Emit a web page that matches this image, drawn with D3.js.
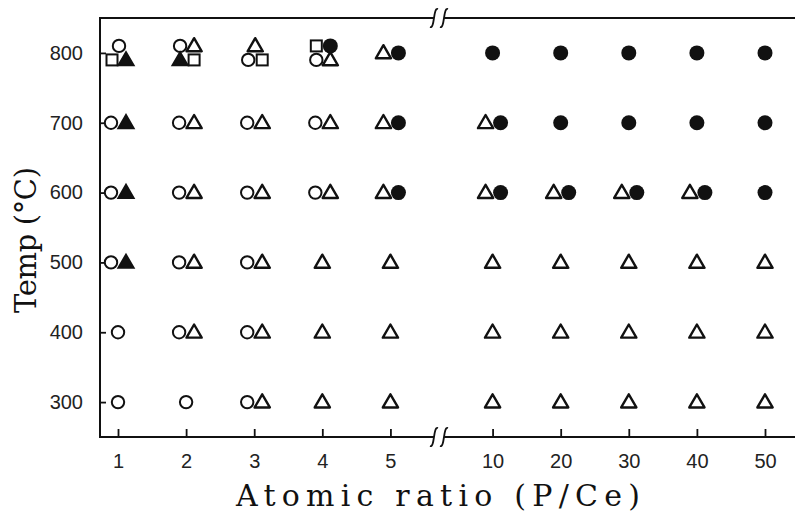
<!DOCTYPE html>
<html><head><meta charset="utf-8">
<script src="https://cdn.jsdelivr.net/npm/d3@7"></script>
<style>html,body{margin:0;padding:0;background:#fff;}svg{display:block;}</style>
</head><body>
<svg id="chart" width="795" height="522"></svg>
<script>
// ---- data ----
const ratios = ["1","2","3","4","5","10","20","30","40","50"];
const temps = [300,400,500,600,700,800];
const xTitle = "Atomic ratio (P/Ce)";
const yTitle = "Temp (\u00B0C)";
// each point: [ratio, temp, slot]  (slot = position within the crowded cell)
const openCircle = [
  ["1",800,"T"],["2",800,"TL"],["3",800,"BL"],["4",800,"BL"],
  ["1",700,"L"],["2",700,"L"],["3",700,"L"],["4",700,"L"],
  ["1",600,"L"],["2",600,"L"],["3",600,"L"],["4",600,"L"],
  ["1",500,"L"],["2",500,"L"],["3",500,"L"],
  ["1",400,"C"],["2",400,"L"],["3",400,"L"],
  ["1",300,"C"],["2",300,"C"],["3",300,"L"]
];
const openTriangle = [
  ["2",800,"TR"],["3",800,"T"],["4",800,"BR"],["5",800,"L"],
  ["2",700,"R"],["3",700,"R"],["4",700,"R"],["5",700,"L"],["10",700,"L"],
  ["2",600,"R"],["3",600,"R"],["4",600,"R"],["5",600,"L"],["10",600,"L"],["20",600,"L"],["30",600,"L"],["40",600,"L"],
  ["2",500,"R"],["3",500,"R"],["4",500,"C"],["5",500,"C"],["10",500,"C"],["20",500,"C"],["30",500,"C"],["40",500,"C"],["50",500,"C"],
  ["2",400,"R"],["3",400,"R"],["4",400,"C"],["5",400,"C"],["10",400,"C"],["20",400,"C"],["30",400,"C"],["40",400,"C"],["50",400,"C"],
  ["3",300,"R"],["4",300,"C"],["5",300,"C"],["10",300,"C"],["20",300,"C"],["30",300,"C"],["40",300,"C"],["50",300,"C"]
];
const filledTriangle = [
  ["1",800,"BR"],["2",800,"BL"],
  ["1",700,"R"],["1",600,"R"],["1",500,"R"]
];
const openSquare = [
  ["1",800,"BL"],["2",800,"BR"],["3",800,"BR"],["4",800,"TL"]
];
const filledCircle = [
  ["4",800,"TR"],["5",800,"R"],["10",800,"C"],["20",800,"C"],["30",800,"C"],["40",800,"C"],["50",800,"C"],
  ["5",700,"R"],["10",700,"R"],["20",700,"C"],["30",700,"C"],["40",700,"C"],["50",700,"C"],
  ["5",600,"R"],["10",600,"R"],["20",600,"R"],["30",600,"R"],["40",600,"R"],["50",600,"C"]
];

// ---- layout ----
const svg = d3.select("#chart");
const plotL = 100, plotR = 795, plotT = 18, plotB = 437;
const breakX = 439;
const slot = {C:[0,0],L:[-7,0],R:[8,0],T:[1,-7],TL:[-6,-7],TR:[8,-7],BL:[-6,7],BR:[8,7]};
const posIndex = r => { const i = ratios.indexOf(r); return i < 5 ? i : i + 0.5; };
const x = d3.scaleLinear().domain([0, 9.5]).range([118, 765]);
const y = d3.scaleLinear().domain([250, 850]).range([plotB, plotT]);
const px = d => x(posIndex(d[0])) + slot[d[2]][0];
const py = d => y(d[1]) + slot[d[2]][1];

const ink = "#111";
const tickFont = "'Liberation Sans', Arial, sans-serif";
const titleFont = "'DejaVu Serif', 'Liberation Serif', serif";

// frame lines
const frame = svg.append("g").attr("stroke", ink).attr("stroke-width", 2).attr("fill", "none");
frame.append("line").attr("x1", plotL).attr("x2", plotL).attr("y1", plotT - 1).attr("y2", plotB + 1);
[plotT, plotB].forEach(yy => {
  frame.append("line").attr("x1", plotL).attr("x2", breakX - 5).attr("y1", yy).attr("y2", yy);
  frame.append("line").attr("x1", breakX + 5).attr("x2", plotR).attr("y1", yy).attr("y2", yy);
  [breakX - 5, breakX + 5].forEach(bx => {
    frame.append("path")
      .attr("d", `M${bx-4},${yy+9} C${bx+1},${yy+11} ${bx-1},${yy-11} ${bx+4},${yy-9}`)
      .attr("stroke-width", 1.8);
  });
});

// axes
const yAxis = d3.axisLeft(y).tickValues(temps).tickSize(-6).tickPadding(17).tickFormat(d3.format("d"));
const gy = svg.append("g").attr("transform", `translate(${plotL},0)`).call(yAxis);
const xAxis = d3.axisBottom(x).tickValues(ratios.map(posIndex)).tickSize(-8).tickPadding(17)
  .tickFormat(v => ratios.find(r => posIndex(r) === v));
const gx = svg.append("g").attr("transform", `translate(0,${plotB})`).call(xAxis);
[gx, gy].forEach(g => {
  g.select(".domain").remove();
  g.selectAll(".tick line").attr("stroke", ink).attr("stroke-width", 1.8);
  g.selectAll(".tick text").attr("fill", "#222").style("font-family", tickFont).style("font-size", "20px");
});

// titles
svg.append("text").attr("x", 438).attr("y", 506).attr("text-anchor", "middle")
  .style("font-family", titleFont).style("font-size", "30px").attr("fill", ink)
  .attr("textLength", 404).attr("lengthAdjust", "spacing").text(xTitle);
svg.append("text").attr("transform", "translate(36,240) rotate(-90)").attr("text-anchor", "middle")
  .style("font-family", titleFont).style("font-size", "29px").attr("fill", ink)
  .attr("textLength", 146).attr("lengthAdjust", "spacing").text(yTitle);

// markers
const marks = svg.append("g");
const tri = d3.symbol().type(d3.symbolTriangle).size(100);
marks.selectAll(".oc").data(openCircle).join("circle")
  .attr("cx", px).attr("cy", py).attr("r", 6.2).attr("fill", "#fff").attr("stroke", ink).attr("stroke-width", 2);
marks.selectAll(".os").data(openSquare).join("rect")
  .attr("x", d => px(d) - 5.5).attr("y", d => py(d) - 5.5).attr("width", 11).attr("height", 11)
  .attr("fill", "#fff").attr("stroke", ink).attr("stroke-width", 2);
marks.selectAll(".ot").data(openTriangle).join("path")
  .attr("d", tri).attr("transform", d => `translate(${px(d)},${py(d) + 1})`)
  .attr("fill", "#fff").attr("stroke", ink).attr("stroke-width", 2.4).attr("stroke-linejoin", "round");
marks.selectAll(".ft").data(filledTriangle).join("path")
  .attr("d", tri).attr("transform", d => `translate(${px(d)},${py(d) + 1})`)
  .attr("fill", ink).attr("stroke", ink).attr("stroke-width", 2);
marks.selectAll(".fc").data(filledCircle).join("circle")
  .attr("cx", px).attr("cy", py).attr("r", 7.5).attr("fill", ink);
</script>
</body></html>
